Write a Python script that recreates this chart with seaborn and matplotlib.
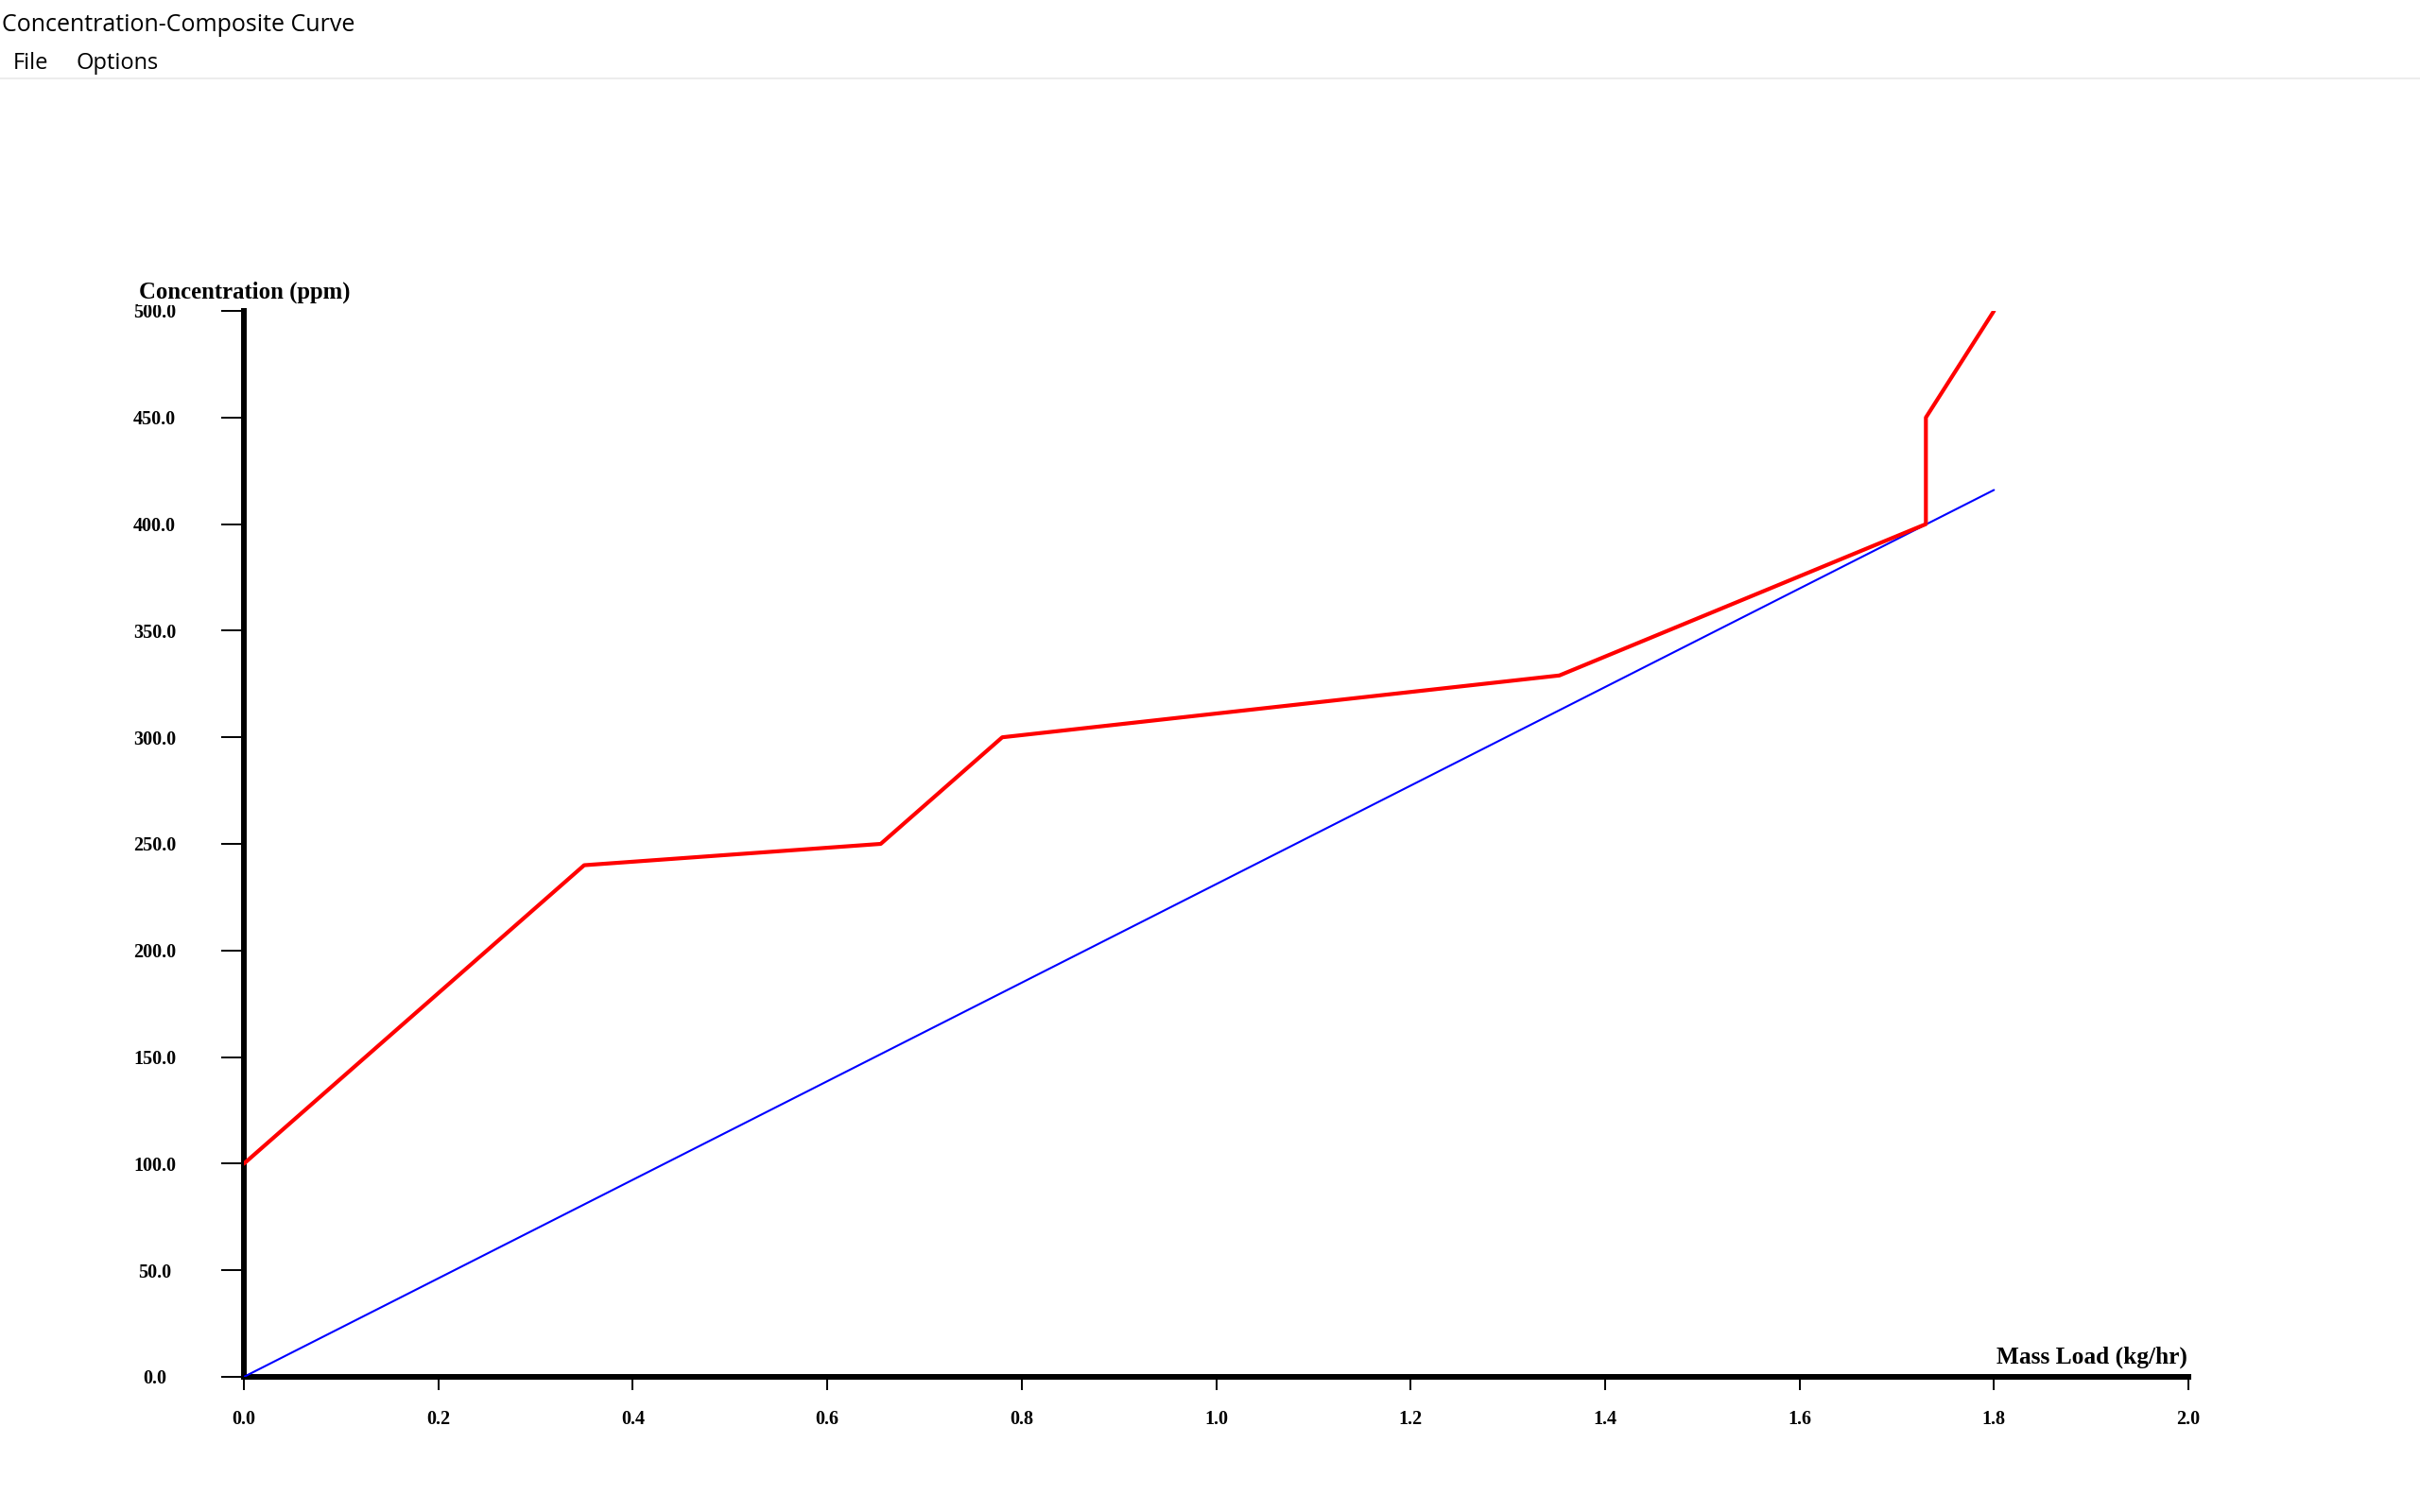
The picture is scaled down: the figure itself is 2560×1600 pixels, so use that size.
import matplotlib
matplotlib.use("Agg")
import matplotlib.pyplot as plt
from matplotlib.lines import Line2D
import seaborn as sns
import pandas as pd

# ---- data ----
red_x = [0.0, 0.35, 0.655, 0.78, 1.353, 1.73, 1.73, 1.80]
red_y = [100.0, 240.0, 250.0, 300.0, 329.0, 400.0, 450.0, 500.0]
blue_x = [0.0, 1.80]
blue_y = [0.0, 416.0]
x_ticks = [0.0, 0.2, 0.4, 0.6, 0.8, 1.0, 1.2, 1.4, 1.6, 1.8, 2.0]
y_ticks = [0, 50, 100, 150, 200, 250, 300, 350, 400, 450, 500]
x_tick_labels = [f"{v:.1f}" for v in x_ticks]
y_tick_labels = [f"{v:.1f}" for v in y_ticks]
window_title = "Concentration-Composite Curve"
menu_items = ["File", "Options"]
x_label = "Mass Load (kg/hr)"
y_label = "Concentration (ppm)"

sns.set_theme(style="white")
plt.rcParams['font.family'] = ['DejaVu Sans']

W, H = 2560, 1600
fig = plt.figure(figsize=(25.6, 16), dpi=100)
fig.patch.set_facecolor("white")

def fx(px):
    return px / W

def fy(py):
    return 1 - py / H

# window chrome
fig.text(fx(2), fy(33), window_title, fontsize=18, family="Open Sans",
         ha="left", va="baseline", color="black")
fig.text(fx(14), fy(73), menu_items[0], fontsize=17, family="Open Sans",
         ha="left", va="baseline", color="black")
fig.text(fx(81), fy(73), menu_items[1], fontsize=17, family="Open Sans",
         ha="left", va="baseline", color="black")
fig.add_artist(Line2D([0, 1], [fy(83), fy(83)], transform=fig.transFigure,
                      color="#ececec", linewidth=1.5))

# axes: x 0..2 -> px 258..2315 ; y 0..500 -> px 1457..329
ax = fig.add_axes([fx(258), fy(1457), (2315 - 258) / W, (1457 - 329) / H])
ax.set_facecolor("white")

red_df = pd.DataFrame({"x": red_x, "y": red_y})
blue_df = pd.DataFrame({"x": blue_x, "y": blue_y})
sns.lineplot(data=blue_df, x="x", y="y", sort=False, estimator=None,
             color="#0000ff", linewidth=1.5, ax=ax)
sns.lineplot(data=red_df, x="x", y="y", sort=False, estimator=None,
             color="#ff0000", linewidth=3.0, ax=ax)

ax.set_xlim(0, 2.0)
ax.set_ylim(0, 500)
ax.set_xlabel("")
ax.set_ylabel("")
ax.grid(False)

for s in ["top", "right"]:
    ax.spines[s].set_visible(False)
for s in ["left", "bottom"]:
    ax.spines[s].set_visible(True)
    ax.spines[s].set_color("black")
    ax.spines[s].set_linewidth(4.3)
    ax.spines[s].set_zorder(1)

ax.set_xticks(x_ticks)
ax.set_xticklabels(x_tick_labels)
ax.set_yticks(y_ticks)
ax.set_yticklabels(y_tick_labels)

tick_size = 14.5
ax.tick_params(axis="x", direction="out", length=10, width=1.4, color="black",
               pad=15, bottom=True)
ax.tick_params(axis="y", direction="out", length=17, width=1.4, color="black",
               pad=51, left=True)
for lab in ax.get_xticklabels() + ax.get_yticklabels():
    lab.set_fontfamily("Liberation Serif")
    lab.set_fontweight("bold")
    lab.set_fontsize(tick_size)
    lab.set_color("black")
for lab in ax.get_yticklabels():
    lab.set_horizontalalignment("center")
    lab.set_verticalalignment("center_baseline")

# axis titles
fig.text(fx(147), fy(316), y_label, family="Liberation Serif", weight="bold",
         fontsize=17.8, ha="left", va="baseline", color="black", zorder=5,
         bbox=dict(facecolor="white", edgecolor="none", pad=1))
fig.text(fx(2314), fy(1443), x_label, family="Liberation Serif", weight="bold",
         fontsize=18.3, ha="right", va="baseline", color="black")

fig.savefig("out.png", dpi=100, facecolor="white")
